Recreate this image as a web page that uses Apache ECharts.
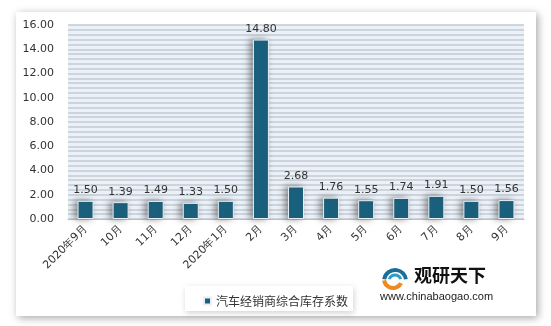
<!DOCTYPE html>
<html><head><meta charset="utf-8">
<script src="https://cdn.jsdelivr.net/npm/echarts@6/dist/echarts.min.js"></script>
<style>html,body{margin:0;padding:0;background:#fff;}#c{width:551px;height:326px;}</style>
</head><body><div id="c"></div>
<script>
var categories = ['2020年9月','10月','11月','12月','2020年1月','2月','3月','4月','5月','6月','7月','8月','9月'];
var values = [1.50,1.39,1.49,1.33,1.50,14.80,2.68,1.76,1.55,1.74,1.91,1.50,1.56];
var seriesName = '汽车经销商综合库存系数';
var yTicks = {min:0, max:16, interval:2};

var chart = echarts.init(document.getElementById('c'), null, {renderer:'canvas'});
var F = '"DejaVu Sans", Verdana, sans-serif';
chart.setOption({
  animation:false,
  backgroundColor:'#fff',
  graphic:[
    {type:'rect', z:-10, shape:{x:16,y:12,width:520,height:304}, style:{fill:'#fff', shadowColor:'rgba(0,0,0,0.35)', shadowBlur:8, shadowOffsetX:2, shadowOffsetY:2}},
    {type:'rect', z:-5, shape:{x:185,y:286,width:168,height:25}, style:{fill:'#fff', shadowColor:'rgba(0,0,0,0.18)', shadowBlur:6, shadowOffsetX:1, shadowOffsetY:2}},
    {type:'arc', shape:{cx:395,cy:281,r:11,startAngle:Math.PI*1.05,endAngle:Math.PI*1.95}, style:{stroke:'#1a6f9a',lineWidth:4,fill:null}},
    {type:'arc', shape:{cx:395,cy:281,r:6,startAngle:Math.PI*1.1,endAngle:Math.PI*1.9}, style:{stroke:'#2f9bc8',lineWidth:3,fill:null}},
    {type:'arc', shape:{cx:393,cy:279,r:9,startAngle:Math.PI*0.15,endAngle:Math.PI*0.95}, style:{stroke:'#f08a1c',lineWidth:4,fill:null}},
    {type:'text', left:414, top:266, style:{text:'观研天下', font:'bold 18px "Noto Sans CJK SC"', fill:'#111'}},
    {type:'text', left:380, top:291, style:{text:'www.chinabaogao.com', font:'11px "Liberation Sans", Arial, sans-serif', fill:'#222'}}
  ],
  legend:{
    data:[seriesName], left:198, top:290, itemWidth:7, itemHeight:7, icon:'rect', itemGap:4,
    textStyle:{fontSize:12, color:'#333', fontFamily:'"Noto Sans CJK SC"'}
  },
  grid:{left:68, right:27, top:25, bottom:107, show:true, backgroundColor:'#eaf1f8', borderWidth:0},
  xAxis:{
    type:'category', data:categories,
    axisLine:{lineStyle:{color:'#bfbfbf'}}, axisTick:{show:false},
    axisLabel:{rotate:45, fontSize:11, color:'#333', fontFamily:F, interval:0, margin:8}
  },
  yAxis:{
    type:'value', min:yTicks.min, max:yTicks.max, interval:yTicks.interval,
    axisLine:{show:false}, axisTick:{show:false},
    axisLabel:{fontSize:11, color:'#333', fontFamily:F, margin:14, formatter:function(v){return v.toFixed(2);}},
    splitLine:{lineStyle:{color:'#c3cad2', width:1.5}},
    minorTick:{show:false, splitNumber:5},
    minorSplitLine:{show:true, lineStyle:{color:'#c3cad2', width:1.5}}
  },
  series:[{
    name:seriesName, type:'bar', data:values, barWidth:16,
    itemStyle:{color:'#19627f', borderColor:'#e8eef3', borderWidth:1, shadowColor:'rgba(60,60,60,0.55)', shadowBlur:6, shadowOffsetX:-3},
    label:{show:true, position:'top', distance:5, fontSize:11, color:'#333', fontFamily:F, formatter:function(p){return p.value.toFixed(2);}}
  }]
});
</script></body></html>
